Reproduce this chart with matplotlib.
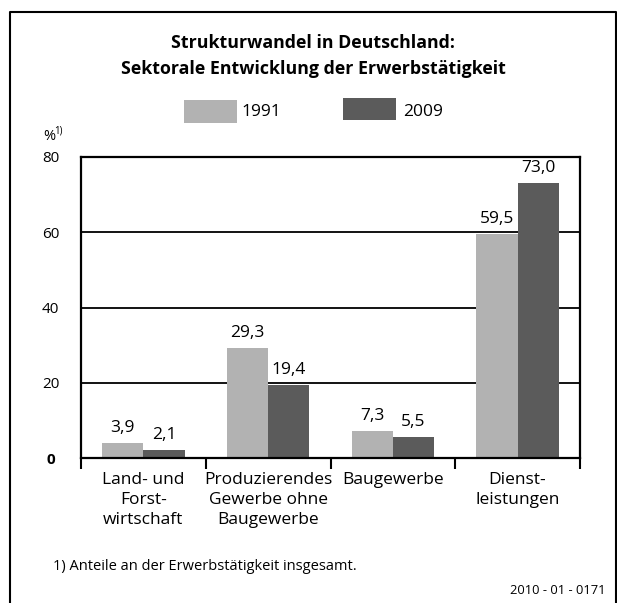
import matplotlib
matplotlib.use("Agg")
import matplotlib.pyplot as plt
from matplotlib.patches import Rectangle
from matplotlib.lines import Line2D
import numpy as np

plt.rcParams['font.family'] = ['Open Sans', 'DejaVu Sans']

categories = ["Land- und\nForst-\nwirtschaft", "Produzierendes\nGewerbe ohne\nBaugewerbe",
              "Baugewerbe", "Dienst-\nleistungen"]
series_names = ["1991", "2009"]
values_1991 = [3.9, 29.3, 7.3, 59.5]
values_2009 = [2.1, 19.4, 5.5, 73.0]
yticks = [0, 20, 40, 60, 80]
title = "Strukturwandel in Deutschland:\nSektorale Entwicklung der Erwerbstätigkeit"
footnote = "1) Anteile an der Erwerbstätigkeit insgesamt."
code = "2010 - 01 - 0171"

c_light = "#b2b2b2"
c_dark = "#5b5b5b"

W, H = 617, 603
fig = plt.figure(figsize=(W / 100, H / 100), dpi=100)

def fx(px):
    return px / W

def fy(py):
    return 1 - py / H

# outer frame (left, top, right)
fig.add_artist(Line2D([fx(10.5), fx(10.5), fx(615.5), fx(615.5)],
                      [0, fy(11.5), fy(11.5), 0], color="black", lw=1.5,
                      transform=fig.transFigure))

ax = fig.add_axes([fx(81), fy(458), fx(580) - fx(81), fy(157) - fy(458)])
x = np.arange(len(categories))
bw = 0.33
b1 = ax.bar(x - bw / 2, values_1991, bw, color=c_light, zorder=2)
b2 = ax.bar(x + bw / 2, values_2009, bw, color=c_dark, zorder=2)

ax.set_xlim(-0.5, len(categories) - 0.5)
ax.set_ylim(0, 80)
ax.set_yticks(yticks)
ax.set_yticklabels([str(v) for v in yticks], fontsize=11)
ax.get_yticklabels()[0].set_fontweight("bold")
ax.tick_params(axis="y", length=0, pad=22)
for lab in ax.get_yticklabels():
    lab.set_horizontalalignment("center")
ax.yaxis.grid(True, color="black", lw=1.3, zorder=1)

ax.set_xticks(x)
ax.set_xticklabels(categories, fontsize=12.5, linespacing=1.32, va="top")
ax.tick_params(axis="x", which="major", length=0, pad=10)
ax.set_xticks(np.arange(-0.5, len(categories), 1.0), minor=True)
ax.tick_params(axis="x", which="minor", length=8, width=1.5, direction="out")

for s in ax.spines.values():
    s.set_linewidth(1.6)
ax.spines["top"].set_zorder(1)

def fmt(v):
    return f"{v:.1f}".replace(".", ",")

for bars, vals in ((b1, values_1991), (b2, values_2009)):
    for rect, v in zip(bars, vals):
        t = ax.annotate(fmt(v), (rect.get_x() + rect.get_width() / 2, v),
                        xytext=(0, 5), textcoords="offset points",
                        ha="center", va="bottom", fontsize=12.5, zorder=5,
                        annotation_clip=False)
        if v > 70:
            t.set_bbox(dict(facecolor="white", edgecolor="none", pad=1))

# title
fig.text(fx(313), fy(56), title, ha="center", va="center", fontsize=12.8,
         fontweight="bold", linespacing=1.5)

# legend
fig.add_artist(Rectangle((fx(184), fy(123)), fx(237) - fx(184), fy(100) - fy(123),
                         facecolor=c_light, edgecolor="none", transform=fig.transFigure))
fig.text(fx(241), fy(112), series_names[0], ha="left", va="center", fontsize=12.5)
fig.add_artist(Rectangle((fx(343), fy(120)), fx(396) - fx(343), fy(98) - fy(120),
                         facecolor=c_dark, edgecolor="none", transform=fig.transFigure))
fig.text(fx(403), fy(112), series_names[1], ha="left", va="center", fontsize=12.5)

# unit label
fig.text(fx(43), fy(137), "%", ha="left", va="center", fontsize=10.5)
fig.text(fx(54), fy(131), "1)", ha="left", va="center", fontsize=7)

# footnote and code
fig.text(fx(53), fy(566), footnote, ha="left", va="center", fontsize=10.5)
fig.text(fx(606), fy(591), code, ha="right", va="center", fontsize=9.3)

fig.savefig("out.png", dpi=100)
